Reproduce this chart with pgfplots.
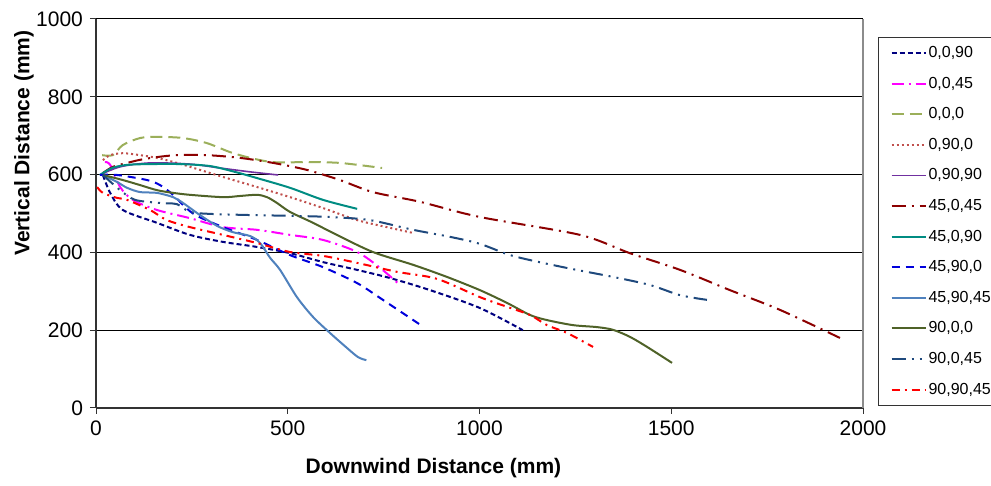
\documentclass[border=0pt]{standalone}
\usepackage{fontspec}
\setmainfont{Liberation Sans}
\usepackage{pgfplots}
\pgfplotsset{compat=1.18}

\definecolor{cNavy}{RGB}{0,0,128}
\definecolor{cMag}{RGB}{255,0,255}
\definecolor{cOliveL}{RGB}{155,175,90}
\definecolor{cRose}{RGB}{192,80,77}
\definecolor{cPurp}{RGB}{112,48,160}
\definecolor{cDRed}{RGB}{140,0,0}
\definecolor{cTeal}{RGB}{0,140,130}
\definecolor{cBlue}{RGB}{0,0,220}
\definecolor{cSteel}{RGB}{79,129,189}
\definecolor{cOliveD}{RGB}{79,98,40}
\definecolor{cSlate}{RGB}{31,73,125}
\definecolor{cRed}{RGB}{255,0,0}

\begin{document}
\begin{tikzpicture}[x=1pt,y=1pt]
\path[use as bounding box] (0,0) rectangle (495.5,243);
\begin{axis}[
  at={(48pt,39pt)}, anchor=south west, scale only axis,
  width=383.5pt, height=194.5pt,
  xmin=0, xmax=2000, ymin=0, ymax=1000,
  xtick={0,500,1000,1500,2000}, ytick={0,200,400,600,800,1000},
  axis x line*=bottom, axis y line*=left,
  axis line style={-, black!80, line width=0.6pt},
  ymajorgrids, major grid style={black, line width=0.5pt},
  tick align=outside, major tick length=3pt,
  tick style={black!80, line width=0.5pt},
  tick label style={font=\fontsize{10.5}{12}\selectfont},
  /pgf/number format/assume math mode=true,
  /pgf/number format/set thousands separator={},
  xlabel={\textbf{Downwind Distance (mm)}},
  ylabel={\textbf{Vertical Distance (mm)}},
  label style={font=\fontsize{10.5}{12}\selectfont},
  xlabel style={at={(axis description cs:0.44,-0.154)}, anchor=center},
  ylabel style={at={(axis description cs:-0.094,0.681)}, anchor=center},
  clip=false,
  every axis plot/.append style={line width=1pt, smooth},
  legend cell align=left,
  legend image code/.code={\path (0pt,0pt); \draw[#1] (5pt,0pt) -- (22pt,0pt);},
  legend style={at={(axis description cs:1.0196,0.9537)}, anchor=north west,
    font=\fontsize{8}{9.6}\selectfont, draw=black!80, line width=0.5pt,
    inner xsep=1pt, inner ysep=3pt, row sep=5.8pt,
    nodes={inner sep=1pt, text height=6pt, text depth=1.5pt}},
  extra description/.code={\draw[black!45, line width=0.6pt] (rel axis cs:1,0) -- (rel axis cs:1,1);},
]
% 0,0,90
\addplot[cNavy, dash pattern=on 2.5pt off 1.5pt] coordinates {
 (18,599) (37,553) (70,509) (159,476) (245,445) (331,427) (420,414) (506,398)
 (592,375) (681,355) (767,334) (871,303) (1001,257) (1113,200)};
\addlegendentry{0,0,90}
% 0,0,45
\addplot[cMag, dash pattern=on 6pt off 2.5pt on 1pt off 2.5pt] coordinates {
 (23,632) (37,625) (63,568) (96,535) (159,509) (245,488) (331,465) (420,458)
 (506,445) (592,432) (681,401) (741,360) (787,321)};
\addlegendentry{0,0,45}
% 0,0,0
\addplot[cOliveL, dash pattern=on 6pt off 3pt] coordinates {
 (16,650) (44,650) (70,676) (115,694) (159,697) (227,694) (289,681) (349,658)
 (402,643) (462,632) (550,632) (636,630) (746,617)};
\addlegendentry{0,0,0}
% 0,90,0
\addplot[cRose, dash pattern=on 1pt off 1.5pt] coordinates {
 (18,637) (37,650) (70,655) (115,650) (159,643) (211,630) (245,620) (331,594)
 (420,568) (506,542) (592,514) (681,483) (767,463) (827,450)};
\addlegendentry{0,90,0}
% 0,90,90
\addplot[cPurp, line width=0.8pt] coordinates {
 (10,599) (63,620) (141,630) (245,627) (323,617) (402,607) (475,599)};
\addlegendentry{0,90,90}
% 45,0,45
\addplot[cDRed, dash pattern=on 7pt off 3pt on 1pt off 3pt] coordinates {
 (18,604) (44,620) (81,630) (115,638) (159,645) (211,650) (289,650) (375,643)
 (462,630) (550,612) (636,586) (722,555) (845,530) (1001,491) (1262,445)
 (1392,398) (1523,355) (1653,303) (1784,252) (1940,180)};
\addlegendentry{45,0,45}
% 45,0,90
\addplot[cTeal] coordinates {
 (10,599) (42,617) (81,625) (141,627) (219,627) (297,622) (362,607) (420,591)
 (506,566) (592,535) (681,512)};
\addlegendentry{45,0,90}
% 45,90,0
\addplot[cBlue, dash pattern=on 4pt off 3pt] coordinates {
 (10,599) (55,599) (133,586) (167,573) (201,548) (232,517) (263,494) (331,465)
 (420,432) (506,393) (592,362) (681,321) (748,278) (850,211)};
\addlegendentry{45,90,0}
% 45,90,45
\addplot[cSteel] coordinates {
 (18,599) (55,581) (81,566) (115,555) (159,553) (201,542) (227,527) (271,496)
 (316,468) (357,452) (402,442) (428,424) (454,386) (480,355) (524,285)
 (566,234) (610,193) (649,159) (683,131) (705,123)};
\addlegendentry{45,90,45}
% 90,0,0
\addplot[cOliveD] coordinates {
 (18,599) (70,586) (115,573) (159,560) (201,553) (245,548) (331,542) (375,545)
 (420,548) (446,542) (472,527) (506,504) (566,476) (628,445) (722,401)
 (827,368) (915,337) (1001,303) (1072,270) (1132,239) (1176,226) (1244,213)
 (1306,208) (1348,201) (1392,183) (1437,157) (1502,116)};
\addlegendentry{90,0,0}
% 90,0,45
\addplot[cSlate, dash pattern=on 7pt off 3pt on 1pt off 3pt on 1pt off 3pt] coordinates {
 (18,599) (63,560) (102,535) (167,527) (211,524) (245,504) (297,499) (402,496)
 (506,494) (610,491) (714,483) (827,458) (923,440) (1001,422) (1087,391)
 (1218,362) (1348,337) (1445,316) (1523,290) (1593,278)};
\addlegendentry{90,0,45}
% 90,90,45
\addplot[cRed, dash pattern=on 4pt off 2.5pt on 1pt off 2.5pt] coordinates {
 (3,568) (18,553) (55,540) (81,535) (141,509) (185,483) (245,465) (331,445)
 (420,424) (506,401) (592,391) (681,373) (785,350) (889,332) (1001,285)
 (1072,260) (1132,239) (1176,213) (1228,193) (1296,157)};
\addlegendentry{90,90,45}
\end{axis}
\end{tikzpicture}
\end{document}
